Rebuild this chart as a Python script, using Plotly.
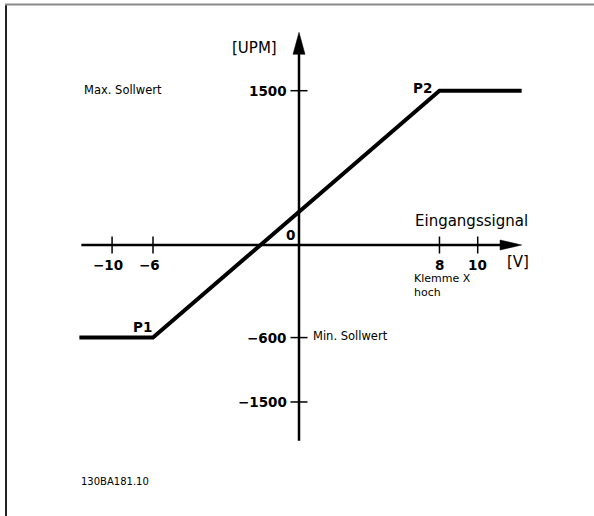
import plotly.graph_objects as go

# ---- data (schematic drawing: tick labels and where the drawing places them) ----
x_tick_text = ["−10", "−6", "8", "10"]
x_tick_pos = [-10.46, -8.17, 7.86, 10.0]

y_tick_text = ["1500", "−600", "−1500"]
y_tick_pos = [1500, -900, -1526]

# characteristic: flat at Min, ramp P1 -> P2, flat at Max
curve_x = [-12.29, -8.17, 7.86, 12.46]
curve_y = [-900, -900, 1500, 1500]

point_names = ["P1", "P2"]

W, H = 594, 516
X_RANGE = [-16.732, 16.508]
Y_RANGE = [-2634.4, 2381.7]

FONT = "DejaVu Sans"
INK = "#000000"

fig = go.Figure()

# characteristic curve
fig.add_trace(go.Scatter(
    x=curve_x, y=curve_y, mode="lines",
    line=dict(color=INK, width=4), hoverinfo="skip", showlegend=False,
))

shapes = []
# axes lines
shapes.append(dict(type="line", xref="x", yref="y", x0=-12.18, x1=11.6, y0=0, y1=0,
                   line=dict(color=INK, width=2.5)))
shapes.append(dict(type="line", xref="x", yref="y", x0=0, x1=0, y0=-1902, y1=1900,
                   line=dict(color=INK, width=2.5)))
# arrowheads
shapes.append(dict(type="path", xref="x", yref="y",
                   path="M 11.25,-48.6 L 12.46,0 L 11.25,48.6 Z",
                   fillcolor=INK, line=dict(color=INK, width=0.5)))
shapes.append(dict(type="path", xref="x", yref="y",
                   path="M -0.336,1853.8 L 0,2067.7 L 0.336,1853.8 Z",
                   fillcolor=INK, line=dict(color=INK, width=0.5)))
# ticks
for xv in x_tick_pos:
    shapes.append(dict(type="line", xref="x", yref="y", x0=xv, x1=xv, y0=-82.6, y1=82.6,
                       line=dict(color=INK, width=1.5)))
for yv in y_tick_pos:
    shapes.append(dict(type="line", xref="x", yref="y", x0=-0.476, x1=0.476, y0=yv, y1=yv,
                       line=dict(color=INK, width=1.5)))
# frame (left and top only)
shapes.append(dict(type="line", xref="paper", yref="paper", x0=6 / W, x1=6 / W,
                   y0=1 - 4.5 / H, y1=0, line=dict(color="#222222", width=2)))
shapes.append(dict(type="line", xref="paper", yref="paper", x0=5 / W, x1=1,
                   y0=1 - 4.5 / H, y1=1 - 4.5 / H, line=dict(color="#8a8a8a", width=2)))

annotations = []


def bold(size):
    return dict(family=FONT, size=size, color=INK, weight="bold")


def reg(size):
    return dict(family=FONT, size=size, color=INK)


# x tick labels
for xv, txt in zip(x_tick_pos, x_tick_text):
    annotations.append(dict(x=xv, y=0, xref="x", yref="y", text=txt, showarrow=False,
                            xanchor="center", yanchor="middle",
                            xshift=-4 if txt.startswith("−") else 0, yshift=-20,
                            font=bold(13.5)))
# y tick labels
for yv, txt in zip(y_tick_pos, y_tick_text):
    annotations.append(dict(x=0, y=yv, xref="x", yref="y", text=txt, showarrow=False,
                            xanchor="right", yanchor="middle", xshift=-10,
                            font=bold(13.5)))
# origin label
annotations.append(dict(x=0, y=0, xref="x", yref="y", text="0", showarrow=False,
                        xanchor="center", yanchor="middle", xshift=-9, yshift=10,
                        font=bold(13.5)))
# point labels
annotations.append(dict(x=curve_x[1], y=curve_y[1], xref="x", yref="y", text=point_names[0],
                        showarrow=False, xanchor="center", yanchor="middle",
                        xshift=-11, yshift=11, font=bold(13.5)))
annotations.append(dict(x=curve_x[2], y=curve_y[2], xref="x", yref="y", text=point_names[1],
                        showarrow=False, xanchor="center", yanchor="middle",
                        xshift=-17, yshift=3, font=bold(13.5)))


def label(px, py, txt, font, **kw):
    annotations.append(dict(x=px / W, y=1 - py / H, xref="paper", yref="paper", text=txt,
                            showarrow=False, xanchor="left", yanchor="middle", font=font, **kw))


label(229.5, 48.3, "[UPM]", reg(15))
label(412.5, 220.5, "Eingangssignal", reg(15))
label(504.5, 261.7, "[V]", reg(15))
label(82, 90, "Max. Sollwert", reg(11.5))
label(310.5, 336, "Min. Sollwert", reg(11.5))
label(411.5, 285.5, "Klemme X<br>hoch", reg(11), align="left")
label(78.5, 481.7, "130BA181.10", reg(10))

fig.update_layout(
    width=W, height=H, autosize=False,
    margin=dict(l=0, r=0, t=0, b=0, pad=0),
    paper_bgcolor="white", plot_bgcolor="white",
    xaxis=dict(range=X_RANGE, visible=False, fixedrange=True),
    yaxis=dict(range=Y_RANGE, visible=False, fixedrange=True),
    shapes=shapes, annotations=annotations, showlegend=False,
)

fig.write_html("out.html", config={"displayModeBar": False},
               post_script="document.body.style.margin='0';document.body.style.padding='0';")
